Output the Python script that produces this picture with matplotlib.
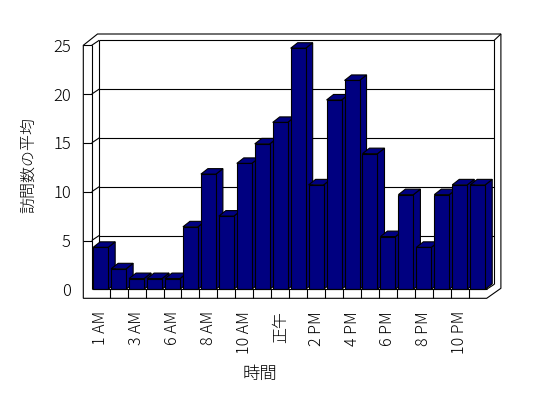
import numpy as np
import matplotlib
matplotlib.use('Agg')
import matplotlib.pyplot as plt
from matplotlib.patches import Polygon, Rectangle

plt.rcParams['font.family'] = ['Noto Sans CJK JP', 'DejaVu Sans']

# data
hours = ['1 AM', '2 AM', '3 AM', '5 AM', '6 AM', '7 AM', '8 AM', '9 AM', '10 AM', '11 AM', '正午',
         '1 PM', '2 PM', '3 PM', '4 PM', '5 PM', '6 PM', '7 PM', '8 PM', '9 PM', '10 PM', '11 PM']
visits = [4.3, 2.1, 1.1, 1.1, 1.1, 6.4, 11.8, 7.5, 12.9, 14.9, 17.1,
          24.7, 10.7, 19.4, 21.4, 13.9, 5.4, 9.7, 4.3, 9.7, 10.7, 10.7]
y_ticks = [0, 5, 10, 15, 20, 25]
x_title = '時間'
y_title = '訪問数の平均'

W, H = 548, 398
fig = plt.figure(figsize=(W / 100, H / 100), dpi=100)
fig.patch.set_facecolor('white')

# front plane of the 3d box, in pixels
left_px, right_px, bottom_px, top_px = 91.7, 486.7, 289.3, 45.3
ax = fig.add_axes([left_px / W, (H - bottom_px) / H,
                   (right_px - left_px) / W, (bottom_px - top_px) / H])
n = len(hours)
ymax = y_ticks[-1]
ax.set_xlim(-0.5, n - 0.5)
ax.set_ylim(0, ymax)
for s in ax.spines.values():
    s.set_visible(False)
ax.patch.set_visible(False)

sx = (right_px - left_px) / n      # pixels per category
sy = (bottom_px - top_px) / ymax   # pixels per unit


def px(dx, dy):
    # pixel offset -> data offset
    return dx / sx, dy / sy


lw = 0.8
kw = dict(color='black', lw=lw, clip_on=False, solid_capstyle='butt')

x0, x1 = -0.5, n - 0.5
Dx, Dy = px(7.5, 5)          # depth of plot box
Bx, By = px(7, 5.5)          # depth of bars
tx, _ = px(8.4, 0)           # left wall thickness
_, ty = px(0, 9)             # floor thickness
ox, oy = px(14.2, 11.3)      # outer back edge

# outer outline
outer = [(x0 - tx, ymax), (x0 - tx + ox, ymax + oy), (x1 + ox, ymax + oy),
         (x1 + ox, px(0, 1)[1]), (x1, -ty), (x0 - tx, -ty)]
ax.add_patch(Polygon(outer, closed=True, fc='white', ec='black', lw=lw, clip_on=False, zorder=1))

# back wall
ax.plot([x0 + Dx, x1 + Dx, x1 + Dx], [ymax + Dy, ymax + Dy, Dy], zorder=2, **kw)
ax.plot([x0 + Dx, x0 + Dx], [Dy, ymax + Dy], zorder=2, **kw)
ax.plot([x1 + Dx, x1 + ox], [ymax + Dy, ymax + oy], zorder=2, **kw)
ax.plot([x1 + Dx, x1], [Dy, 0], zorder=2, **kw)
ax.plot([x0, x0 + Dx], [ymax, ymax + Dy], zorder=2, **kw)
for v in y_ticks[1:-1]:
    ax.plot([x0 + Dx, x1 + Dx], [v + Dy, v + Dy], zorder=2, **kw)
    ax.plot([x0, x0 + Dx], [v, v + Dy], zorder=2, **kw)
    ax.plot([x0 - tx, x0], [v, v], zorder=2, **kw)

# front edges of walls
ax.plot([x0, x0], [0, ymax], zorder=2, **kw)
ax.plot([x0 - tx, x0], [ymax, ymax], zorder=2, **kw)

# bars
bw = 15 / sx
for i, v in enumerate(visits):
    xl, xr = i - bw / 2, i + bw / 2
    side = [(xr, 0), (xr + Bx, By), (xr + Bx, v + By), (xr, v)]
    top = [(xl, v), (xr, v), (xr + Bx, v + By), (xl + Bx, v + By)]
    ax.add_patch(Polygon(side, closed=True, fc='#000080', ec='black', lw=lw, zorder=3, clip_on=False))
    ax.add_patch(Polygon(top, closed=True, fc='#000080', ec='black', lw=lw, zorder=3, clip_on=False))
    ax.add_patch(Rectangle((xl, 0), bw, v, fc='#000080', ec='black', lw=lw, zorder=3, clip_on=False))

# floor front face
ax.plot([x0, x1], [0, 0], zorder=4, **kw)
for k in range(1, n):
    ax.plot([k - 0.5, k - 0.5], [0, -ty], zorder=4, **kw)

ax.set_xticks(range(0, n, 2))
ax.set_xticklabels(hours[::2], rotation=90, fontsize=11.5, fontweight='light')
ax.set_yticks(y_ticks)
ax.set_yticklabels([str(t) for t in y_ticks], fontsize=12, fontweight='light')
ax.tick_params(axis='x', length=0, pad=15.5)
ax.tick_params(axis='y', length=0, pad=15)

ax.text((259.5 - left_px) / (right_px - left_px), (bottom_px - 373.5) / (bottom_px - top_px),
        x_title, transform=ax.transAxes, ha='center', va='center', fontsize=12.5, fontweight='light')
ax.text((28.7 - left_px) / (right_px - left_px), (bottom_px - 165) / (bottom_px - top_px),
        y_title, transform=ax.transAxes, ha='center', va='center', rotation=90,
        fontsize=11.5, fontweight='light')

fig.savefig('out.png', dpi=100, facecolor='white')
